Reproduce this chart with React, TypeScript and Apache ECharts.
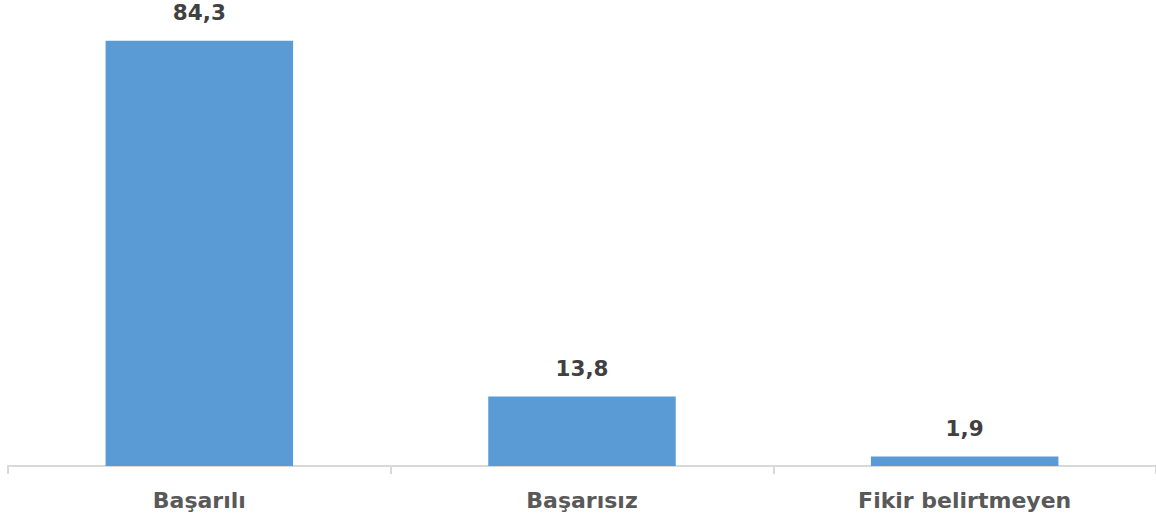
import React, { useEffect, useRef } from "react";
import * as echarts from "echarts";

const categories = ["Başarılı", "Başarısız", "Fikir belirtmeyen"];
const values = [84.3, 13.8, 1.9];

export default function App() {
  const ref = useRef<HTMLDivElement>(null);
  useEffect(() => {
    if (!ref.current) return;
    const chart = echarts.init(ref.current, null, { renderer: "svg" });
    chart.setOption({
      animation: false,
      grid: { left: 8, right: 0, top: 12, bottom: 55, containLabel: false },
      xAxis: {
        type: "category",
        data: categories,
        axisLine: { show: true, lineStyle: { color: "#d9d9d9", width: 2 } },
        axisTick: { show: true, length: 8, lineStyle: { color: "#d9d9d9", width: 2 } },
        axisLabel: {
          color: "#595959",
          fontSize: 22,
          fontWeight: "bold",
          fontFamily: "DejaVu Sans",
          margin: 23,
        },
      },
      yAxis: {
        type: "value",
        min: 0,
        max: 90,
        show: false,
        splitLine: { show: false },
      },
      series: [
        {
          type: "bar",
          data: values,
          barWidth: "49%",
          itemStyle: { color: "#5B9BD5" },
          label: {
            show: true,
            position: "top",
            distance: 17,
            color: "#404040",
            fontSize: 21.5,
            fontWeight: "bold",
            fontFamily: "DejaVu Sans",
            formatter: (p: any) => String(p.value).replace(".", ","),
          },
        },
      ],
    });
    return () => chart.dispose();
  }, []);
  return <div ref={ref} style={{ width: 1156, height: 521, position: "absolute", left: 0, top: 0 }} />;
}
